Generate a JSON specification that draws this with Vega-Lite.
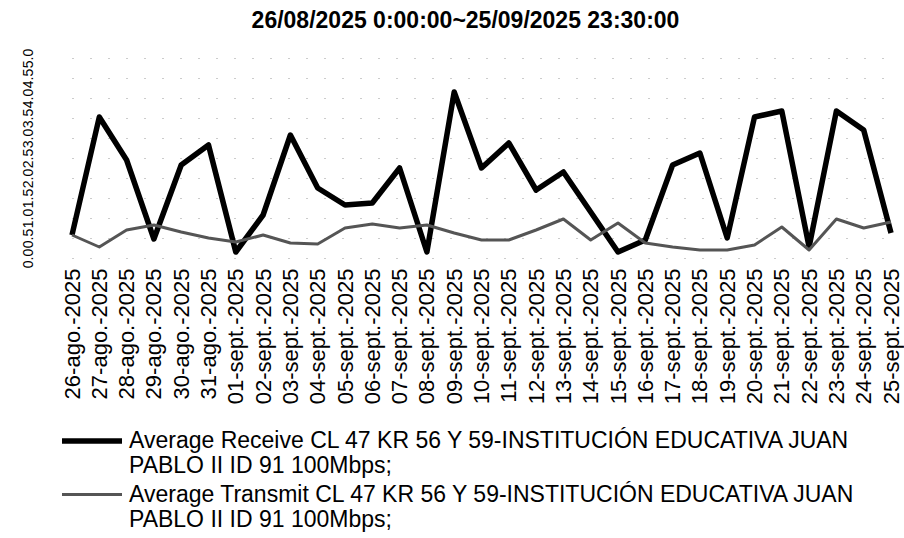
{
  "$schema": "https://vega.github.io/schema/vega-lite/v6.json",
  "autosize": {"type": "none"},
  "padding": {"left": 72, "top": 58, "right": 13, "bottom": 280},
  "width": 819,
  "height": 200,
  "background": "white",
  "title": {
    "text": "26/08/2025 0:00:00~25/09/2025 23:30:00",
    "font": "Liberation Sans",
    "fontSize": 23,
    "fontWeight": "bold",
    "color": "#000000",
    "anchor": "middle",
    "dx": -16,
    "offset": 15
  },
  "config": {
    "view": {"stroke": null},
    "font": "Liberation Sans"
  },
  "data": {
    "values": [
      {"date": "26-ago.-2025", "series": "Average Receive CL 47 KR 56 Y 59-INSTITUCIÓN EDUCATIVA JUAN PABLO II ID 91 100Mbps;", "value": 0.575},
      {"date": "27-ago.-2025", "series": "Average Receive CL 47 KR 56 Y 59-INSTITUCIÓN EDUCATIVA JUAN PABLO II ID 91 100Mbps;", "value": 3.525},
      {"date": "28-ago.-2025", "series": "Average Receive CL 47 KR 56 Y 59-INSTITUCIÓN EDUCATIVA JUAN PABLO II ID 91 100Mbps;", "value": 2.45},
      {"date": "29-ago.-2025", "series": "Average Receive CL 47 KR 56 Y 59-INSTITUCIÓN EDUCATIVA JUAN PABLO II ID 91 100Mbps;", "value": 0.475},
      {"date": "30-ago.-2025", "series": "Average Receive CL 47 KR 56 Y 59-INSTITUCIÓN EDUCATIVA JUAN PABLO II ID 91 100Mbps;", "value": 2.325},
      {"date": "31-ago.-2025", "series": "Average Receive CL 47 KR 56 Y 59-INSTITUCIÓN EDUCATIVA JUAN PABLO II ID 91 100Mbps;", "value": 2.825},
      {"date": "01-sept.-2025", "series": "Average Receive CL 47 KR 56 Y 59-INSTITUCIÓN EDUCATIVA JUAN PABLO II ID 91 100Mbps;", "value": 0.15},
      {"date": "02-sept.-2025", "series": "Average Receive CL 47 KR 56 Y 59-INSTITUCIÓN EDUCATIVA JUAN PABLO II ID 91 100Mbps;", "value": 1.075},
      {"date": "03-sept.-2025", "series": "Average Receive CL 47 KR 56 Y 59-INSTITUCIÓN EDUCATIVA JUAN PABLO II ID 91 100Mbps;", "value": 3.075},
      {"date": "04-sept.-2025", "series": "Average Receive CL 47 KR 56 Y 59-INSTITUCIÓN EDUCATIVA JUAN PABLO II ID 91 100Mbps;", "value": 1.75},
      {"date": "05-sept.-2025", "series": "Average Receive CL 47 KR 56 Y 59-INSTITUCIÓN EDUCATIVA JUAN PABLO II ID 91 100Mbps;", "value": 1.325},
      {"date": "06-sept.-2025", "series": "Average Receive CL 47 KR 56 Y 59-INSTITUCIÓN EDUCATIVA JUAN PABLO II ID 91 100Mbps;", "value": 1.375},
      {"date": "07-sept.-2025", "series": "Average Receive CL 47 KR 56 Y 59-INSTITUCIÓN EDUCATIVA JUAN PABLO II ID 91 100Mbps;", "value": 2.25},
      {"date": "08-sept.-2025", "series": "Average Receive CL 47 KR 56 Y 59-INSTITUCIÓN EDUCATIVA JUAN PABLO II ID 91 100Mbps;", "value": 0.15},
      {"date": "09-sept.-2025", "series": "Average Receive CL 47 KR 56 Y 59-INSTITUCIÓN EDUCATIVA JUAN PABLO II ID 91 100Mbps;", "value": 4.15},
      {"date": "10-sept.-2025", "series": "Average Receive CL 47 KR 56 Y 59-INSTITUCIÓN EDUCATIVA JUAN PABLO II ID 91 100Mbps;", "value": 2.25},
      {"date": "11-sept.-2025", "series": "Average Receive CL 47 KR 56 Y 59-INSTITUCIÓN EDUCATIVA JUAN PABLO II ID 91 100Mbps;", "value": 2.875},
      {"date": "12-sept.-2025", "series": "Average Receive CL 47 KR 56 Y 59-INSTITUCIÓN EDUCATIVA JUAN PABLO II ID 91 100Mbps;", "value": 1.7},
      {"date": "13-sept.-2025", "series": "Average Receive CL 47 KR 56 Y 59-INSTITUCIÓN EDUCATIVA JUAN PABLO II ID 91 100Mbps;", "value": 2.15},
      {"date": "14-sept.-2025", "series": "Average Receive CL 47 KR 56 Y 59-INSTITUCIÓN EDUCATIVA JUAN PABLO II ID 91 100Mbps;", "value": 1.15},
      {"date": "15-sept.-2025", "series": "Average Receive CL 47 KR 56 Y 59-INSTITUCIÓN EDUCATIVA JUAN PABLO II ID 91 100Mbps;", "value": 0.15},
      {"date": "16-sept.-2025", "series": "Average Receive CL 47 KR 56 Y 59-INSTITUCIÓN EDUCATIVA JUAN PABLO II ID 91 100Mbps;", "value": 0.45},
      {"date": "17-sept.-2025", "series": "Average Receive CL 47 KR 56 Y 59-INSTITUCIÓN EDUCATIVA JUAN PABLO II ID 91 100Mbps;", "value": 2.325},
      {"date": "18-sept.-2025", "series": "Average Receive CL 47 KR 56 Y 59-INSTITUCIÓN EDUCATIVA JUAN PABLO II ID 91 100Mbps;", "value": 2.625},
      {"date": "19-sept.-2025", "series": "Average Receive CL 47 KR 56 Y 59-INSTITUCIÓN EDUCATIVA JUAN PABLO II ID 91 100Mbps;", "value": 0.5},
      {"date": "20-sept.-2025", "series": "Average Receive CL 47 KR 56 Y 59-INSTITUCIÓN EDUCATIVA JUAN PABLO II ID 91 100Mbps;", "value": 3.525},
      {"date": "21-sept.-2025", "series": "Average Receive CL 47 KR 56 Y 59-INSTITUCIÓN EDUCATIVA JUAN PABLO II ID 91 100Mbps;", "value": 3.675},
      {"date": "22-sept.-2025", "series": "Average Receive CL 47 KR 56 Y 59-INSTITUCIÓN EDUCATIVA JUAN PABLO II ID 91 100Mbps;", "value": 0.275},
      {"date": "23-sept.-2025", "series": "Average Receive CL 47 KR 56 Y 59-INSTITUCIÓN EDUCATIVA JUAN PABLO II ID 91 100Mbps;", "value": 3.675},
      {"date": "24-sept.-2025", "series": "Average Receive CL 47 KR 56 Y 59-INSTITUCIÓN EDUCATIVA JUAN PABLO II ID 91 100Mbps;", "value": 3.2},
      {"date": "25-sept.-2025", "series": "Average Receive CL 47 KR 56 Y 59-INSTITUCIÓN EDUCATIVA JUAN PABLO II ID 91 100Mbps;", "value": 0.625},
      {"date": "26-ago.-2025", "series": "Average Transmit CL 47 KR 56 Y 59-INSTITUCIÓN EDUCATIVA JUAN PABLO II ID 91 100Mbps;", "value": 0.575},
      {"date": "27-ago.-2025", "series": "Average Transmit CL 47 KR 56 Y 59-INSTITUCIÓN EDUCATIVA JUAN PABLO II ID 91 100Mbps;", "value": 0.275},
      {"date": "28-ago.-2025", "series": "Average Transmit CL 47 KR 56 Y 59-INSTITUCIÓN EDUCATIVA JUAN PABLO II ID 91 100Mbps;", "value": 0.7},
      {"date": "29-ago.-2025", "series": "Average Transmit CL 47 KR 56 Y 59-INSTITUCIÓN EDUCATIVA JUAN PABLO II ID 91 100Mbps;", "value": 0.825},
      {"date": "30-ago.-2025", "series": "Average Transmit CL 47 KR 56 Y 59-INSTITUCIÓN EDUCATIVA JUAN PABLO II ID 91 100Mbps;", "value": 0.65},
      {"date": "31-ago.-2025", "series": "Average Transmit CL 47 KR 56 Y 59-INSTITUCIÓN EDUCATIVA JUAN PABLO II ID 91 100Mbps;", "value": 0.5},
      {"date": "01-sept.-2025", "series": "Average Transmit CL 47 KR 56 Y 59-INSTITUCIÓN EDUCATIVA JUAN PABLO II ID 91 100Mbps;", "value": 0.4},
      {"date": "02-sept.-2025", "series": "Average Transmit CL 47 KR 56 Y 59-INSTITUCIÓN EDUCATIVA JUAN PABLO II ID 91 100Mbps;", "value": 0.575},
      {"date": "03-sept.-2025", "series": "Average Transmit CL 47 KR 56 Y 59-INSTITUCIÓN EDUCATIVA JUAN PABLO II ID 91 100Mbps;", "value": 0.375},
      {"date": "04-sept.-2025", "series": "Average Transmit CL 47 KR 56 Y 59-INSTITUCIÓN EDUCATIVA JUAN PABLO II ID 91 100Mbps;", "value": 0.35},
      {"date": "05-sept.-2025", "series": "Average Transmit CL 47 KR 56 Y 59-INSTITUCIÓN EDUCATIVA JUAN PABLO II ID 91 100Mbps;", "value": 0.75},
      {"date": "06-sept.-2025", "series": "Average Transmit CL 47 KR 56 Y 59-INSTITUCIÓN EDUCATIVA JUAN PABLO II ID 91 100Mbps;", "value": 0.85},
      {"date": "07-sept.-2025", "series": "Average Transmit CL 47 KR 56 Y 59-INSTITUCIÓN EDUCATIVA JUAN PABLO II ID 91 100Mbps;", "value": 0.75},
      {"date": "08-sept.-2025", "series": "Average Transmit CL 47 KR 56 Y 59-INSTITUCIÓN EDUCATIVA JUAN PABLO II ID 91 100Mbps;", "value": 0.825},
      {"date": "09-sept.-2025", "series": "Average Transmit CL 47 KR 56 Y 59-INSTITUCIÓN EDUCATIVA JUAN PABLO II ID 91 100Mbps;", "value": 0.625},
      {"date": "10-sept.-2025", "series": "Average Transmit CL 47 KR 56 Y 59-INSTITUCIÓN EDUCATIVA JUAN PABLO II ID 91 100Mbps;", "value": 0.45},
      {"date": "11-sept.-2025", "series": "Average Transmit CL 47 KR 56 Y 59-INSTITUCIÓN EDUCATIVA JUAN PABLO II ID 91 100Mbps;", "value": 0.45},
      {"date": "12-sept.-2025", "series": "Average Transmit CL 47 KR 56 Y 59-INSTITUCIÓN EDUCATIVA JUAN PABLO II ID 91 100Mbps;", "value": 0.7},
      {"date": "13-sept.-2025", "series": "Average Transmit CL 47 KR 56 Y 59-INSTITUCIÓN EDUCATIVA JUAN PABLO II ID 91 100Mbps;", "value": 0.975},
      {"date": "14-sept.-2025", "series": "Average Transmit CL 47 KR 56 Y 59-INSTITUCIÓN EDUCATIVA JUAN PABLO II ID 91 100Mbps;", "value": 0.45},
      {"date": "15-sept.-2025", "series": "Average Transmit CL 47 KR 56 Y 59-INSTITUCIÓN EDUCATIVA JUAN PABLO II ID 91 100Mbps;", "value": 0.875},
      {"date": "16-sept.-2025", "series": "Average Transmit CL 47 KR 56 Y 59-INSTITUCIÓN EDUCATIVA JUAN PABLO II ID 91 100Mbps;", "value": 0.375},
      {"date": "17-sept.-2025", "series": "Average Transmit CL 47 KR 56 Y 59-INSTITUCIÓN EDUCATIVA JUAN PABLO II ID 91 100Mbps;", "value": 0.275},
      {"date": "18-sept.-2025", "series": "Average Transmit CL 47 KR 56 Y 59-INSTITUCIÓN EDUCATIVA JUAN PABLO II ID 91 100Mbps;", "value": 0.2},
      {"date": "19-sept.-2025", "series": "Average Transmit CL 47 KR 56 Y 59-INSTITUCIÓN EDUCATIVA JUAN PABLO II ID 91 100Mbps;", "value": 0.2},
      {"date": "20-sept.-2025", "series": "Average Transmit CL 47 KR 56 Y 59-INSTITUCIÓN EDUCATIVA JUAN PABLO II ID 91 100Mbps;", "value": 0.325},
      {"date": "21-sept.-2025", "series": "Average Transmit CL 47 KR 56 Y 59-INSTITUCIÓN EDUCATIVA JUAN PABLO II ID 91 100Mbps;", "value": 0.775},
      {"date": "22-sept.-2025", "series": "Average Transmit CL 47 KR 56 Y 59-INSTITUCIÓN EDUCATIVA JUAN PABLO II ID 91 100Mbps;", "value": 0.2},
      {"date": "23-sept.-2025", "series": "Average Transmit CL 47 KR 56 Y 59-INSTITUCIÓN EDUCATIVA JUAN PABLO II ID 91 100Mbps;", "value": 0.975},
      {"date": "24-sept.-2025", "series": "Average Transmit CL 47 KR 56 Y 59-INSTITUCIÓN EDUCATIVA JUAN PABLO II ID 91 100Mbps;", "value": 0.75},
      {"date": "25-sept.-2025", "series": "Average Transmit CL 47 KR 56 Y 59-INSTITUCIÓN EDUCATIVA JUAN PABLO II ID 91 100Mbps;", "value": 0.9}
    ]
  },
  "mark": {"type": "line", "interpolate": "linear", "strokeJoin": "round"},
  "encoding": {
    "x": {
      "field": "date",
      "type": "ordinal",
      "sort": null,
      "scale": {"type": "point", "padding": 0},
      "axis": {
        "title": null,
        "labelAngle": -90,
        "labelFont": "Liberation Sans",
        "labelFontSize": 22,
        "labelColor": "#000000",
        "labelPadding": 10,
        "domain": false,
        "ticks": false,
        "grid": false,
        "labelOverlap": false
      }
    },
    "y": {
      "field": "value",
      "type": "quantitative",
      "scale": {"domain": [0, 5], "nice": false},
      "axis": {
        "title": null,
        "values": [0, 0.5, 1, 1.5, 2, 2.5, 3, 3.5, 4, 4.5, 5],
        "format": ".1f",
        "labelAngle": -90,
        "labelFont": "Liberation Sans",
        "labelFontSize": 14,
        "labelColor": "#000000",
        "labelOverlap": false,
        "domain": false,
        "ticks": false,
        "offset": 35,
        "labelPadding": 2,
        "grid": true,
        "gridColor": "#999999",
        "gridDash": [1, 17],
        "gridWidth": 1
      }
    },
    "color": {
      "field": "series",
      "type": "nominal",
      "sort": null,
      "scale": {"range": ["#000000", "#555555"]},
      "legend": {
        "orient": "none",
        "legendX": 2,
        "legendY": 365,
        "title": null,
        "symbolType": "M-2,0H2",
        "symbolSize": 900,
        "labelFont": "Liberation Sans",
        "labelFontSize": 23,
        "labelColor": "#000000",
        "labelLimit": 900,
        "labelOffset": 19,
        "rowPadding": -1,
        "labelExpr": "[substring(datum.label, 0, indexof(datum.label, ' PABLO')), substring(datum.label, indexof(datum.label, 'PABLO') + 0)]"
      }
    },
    "strokeWidth": {
      "field": "series",
      "type": "nominal",
      "sort": null,
      "scale": {"range": [5.5, 3]},
      "legend": null
    }
  }
}
